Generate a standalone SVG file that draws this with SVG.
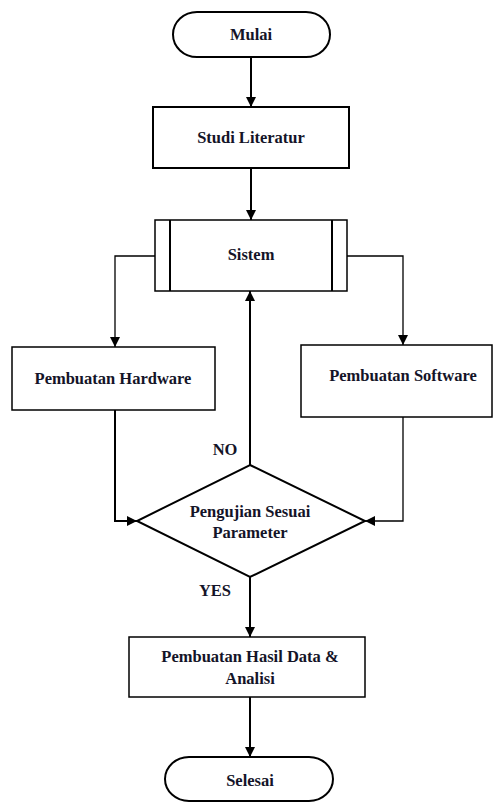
<svg xmlns="http://www.w3.org/2000/svg" width="493" height="802" viewBox="0 0 493 802" font-family="Liberation Serif, DejaVu Serif, serif" font-weight="bold" font-size="16.5">
<style>
text{fill:#141428;text-anchor:middle}
.box{fill:#fff;stroke:#000;stroke-width:1.5}
.c{fill:none;stroke:#000;stroke-width:2}
.t{fill:none;stroke:#000;stroke-width:1.3}
</style>
<defs>
<marker id="ah" viewBox="0 0 10 10" refX="10" refY="5" markerWidth="10" markerHeight="10" markerUnits="userSpaceOnUse" orient="auto">
<path d="M0,0 L10,5 L0,10 Z" fill="#000"/>
</marker>
</defs>
<g id="connectors">
<line class="c" x1="251" y1="57" x2="251" y2="107" marker-end="url(#ah)"/>
<line class="c" x1="251" y1="168" x2="251" y2="220" marker-end="url(#ah)"/>
<polyline class="t" points="155,256 115,256 115,347" marker-end="url(#ah)"/>
<polyline class="t" points="347,256 403,256 403,345" marker-end="url(#ah)"/>
<polyline class="c" points="115,410 115,521 137,521" marker-end="url(#ah)"/>
<polyline class="t" points="403,417 403,521 365,521" marker-end="url(#ah)"/>
<line class="c" x1="250" y1="465" x2="250" y2="291" marker-end="url(#ah)"/>
<line class="c" x1="250" y1="577" x2="250" y2="637" marker-end="url(#ah)"/>
<line class="c" x1="250" y1="697" x2="250" y2="757" marker-end="url(#ah)"/>
<text x="225" y="455">NO</text>
<text x="215" y="596">YES</text>
</g>
<g id="mulai">
<rect x="173" y="12" width="157" height="45" rx="24" ry="22.5" fill="#fff" stroke="#000" stroke-width="2"/>
<text x="251" y="40">Mulai</text>
</g>
<g id="studi">
<rect x="153" y="107" width="196" height="61" fill="#fff" stroke="#000" stroke-width="2"/>
<text x="251" y="143">Studi Literatur</text>
</g>
<g id="sistem">
<rect class="box" x="155" y="220" width="192" height="71"/>
<line x1="170" y1="220" x2="170" y2="291" stroke="#000" stroke-width="2"/>
<line x1="332" y1="220" x2="332" y2="291" stroke="#000" stroke-width="2"/>
<text x="251" y="260">Sistem</text>
</g>
<g id="hardware">
<rect class="box" x="12" y="347" width="203" height="63" stroke-width="1"/>
<text x="113" y="384">Pembuatan Hardware</text>
</g>
<g id="software">
<rect class="box" x="301" y="345" width="191" height="72" stroke-width="1"/>
<text x="403" y="381">Pembuatan Software</text>
</g>
<g id="pengujian">
<polygon points="250,465 365,521 250,577 137,521" fill="#fff" stroke="#000" stroke-width="2"/>
<text x="250" y="517">Pengujian Sesuai</text>
<text x="250" y="538">Parameter</text>
</g>
<g id="hasil">
<rect class="box" x="129" y="637" width="236" height="60"/>
<text x="250" y="662">Pembuatan Hasil Data &amp;</text>
<text x="250" y="684">Analisi</text>
</g>
<g id="selesai">
<rect x="165" y="757" width="168" height="44" rx="24" ry="22" fill="#fff" stroke="#000" stroke-width="2"/>
<text x="250" y="786">Selesai</text>
</g>
</svg>
